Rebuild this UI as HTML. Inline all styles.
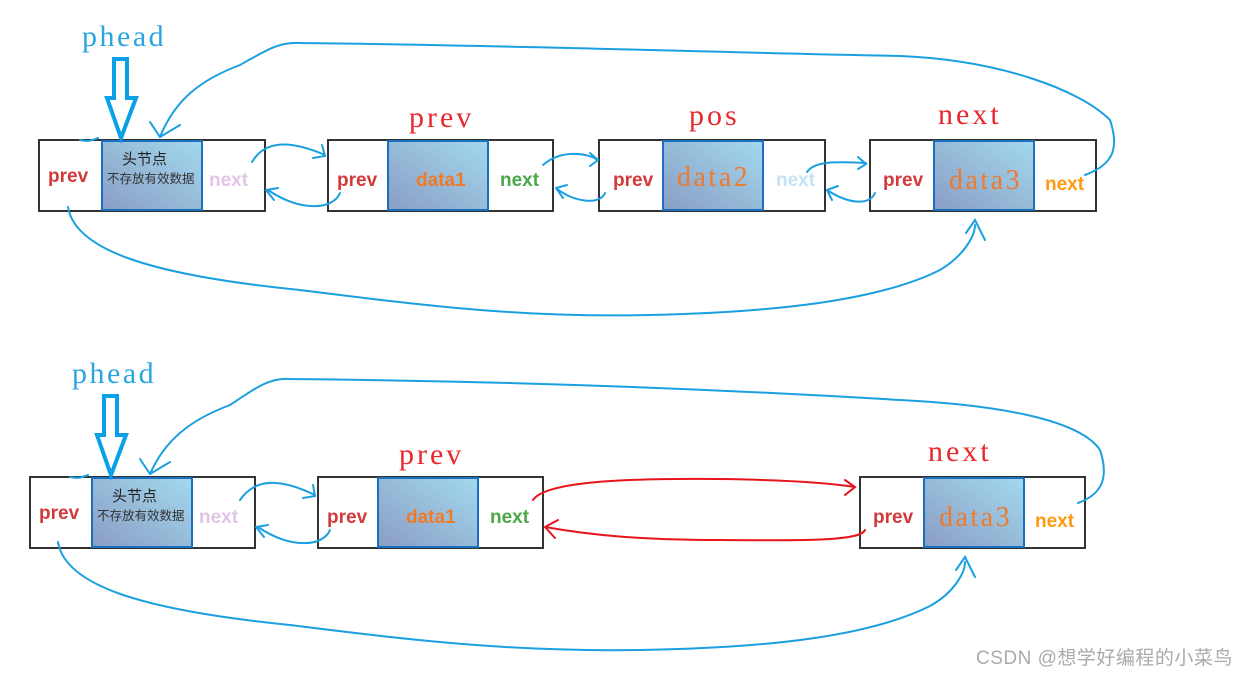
<!DOCTYPE html>
<html><head><meta charset="utf-8"><style>
html,body{margin:0;padding:0;background:#fff;width:1244px;height:676px;overflow:hidden}
svg{display:block}
.lbl{font-family:"Liberation Sans","Noto Sans CJK SC",sans-serif;font-weight:bold;font-size:19px}
.ser{font-family:"Liberation Serif","Noto Serif CJK SC",serif}
</style></head><body>
<svg width="1244" height="676" viewBox="0 0 1244 676" xmlns="http://www.w3.org/2000/svg">
<defs>
<linearGradient id="g" x1="0" y1="1" x2="1" y2="0">
<stop offset="0" stop-color="#8a9dc3"/><stop offset="1" stop-color="#a2d9ef"/>
</linearGradient>
</defs>
<g fill="#fff" stroke="#333" stroke-width="2">
<rect x="39" y="140" width="226" height="71"/>
<rect x="328" y="140" width="225" height="71"/>
<rect x="599" y="140" width="226" height="71"/>
<rect x="870" y="140" width="226" height="71"/>
<rect x="30" y="477" width="225" height="71"/>
<rect x="318" y="477" width="225" height="71"/>
<rect x="860" y="477" width="225" height="71"/>
</g>
<g fill="url(#g)" stroke="#1a6fc0" stroke-width="2">
<rect x="102" y="141" width="100" height="69"/>
<rect x="388" y="141" width="100" height="69"/>
<rect x="663" y="141" width="100" height="69"/>
<rect x="934" y="141" width="100" height="69"/>
<rect x="92" y="478" width="100" height="69"/>
<rect x="378" y="478" width="100" height="69"/>
<rect x="924" y="478" width="100" height="69"/>
</g>
<g class="lbl">
<text x="48" y="182" fill="#d23a3a">prev</text>
<text x="209" y="186" fill="#e2c4e8">next</text>
<text x="337" y="186" fill="#d23a3a">prev</text>
<text x="416" y="186" fill="#ee7a2a">data1</text>
<text x="500" y="186" fill="#4aa84a">next</text>
<text x="613" y="186" fill="#d23a3a">prev</text>
<text x="776" y="186" fill="#c6e2f6">next</text>
<text x="883" y="186" fill="#d23a3a">prev</text>
<text x="1045" y="190" fill="#ff9a10">next</text>
<text x="39" y="519" fill="#d23a3a">prev</text>
<text x="199" y="523" fill="#e2c4e8">next</text>
<text x="327" y="523" fill="#d23a3a">prev</text>
<text x="406" y="523" fill="#ee7a2a">data1</text>
<text x="490" y="523" fill="#4aa84a">next</text>
<text x="873" y="523" fill="#d23a3a">prev</text>
<text x="1035" y="527" fill="#ff9a10">next</text>
</g>
<g class="ser" fill="#ee7a2a" font-size="28" letter-spacing="2.5">
<text x="677" y="186">data2</text>
<text x="949" y="189">data3</text>
<text x="939" y="526">data3</text>
</g>
<g font-family="'Noto Sans CJK SC',sans-serif" fill="#222">
<text x="122" y="164" font-size="15">头节点</text>
<text x="107" y="183" font-size="12.5" fill="#333">不存放有效数据</text>
<text x="112" y="501" font-size="15">头节点</text>
<text x="97" y="520" font-size="12.5" fill="#333">不存放有效数据</text>
</g>
<g class="ser" font-size="30" fill="#e8282c" letter-spacing="3">
<text x="409" y="127">prev</text>
<text x="689" y="125">pos</text>
<text x="938" y="124">next</text>
<text x="399" y="464">prev</text>
<text x="928" y="461">next</text>
</g>
<g class="ser" font-size="30" fill="#2aa5e0" letter-spacing="2.5">
<text x="82" y="46">phead</text>
<text x="72" y="383">phead</text>
</g>
<g fill="none" stroke="#0aa0e8" stroke-width="4" stroke-linejoin="miter">
<path d="M114 59 H127 V98 H136 L121 138 L107 98 H114 Z"/>
<path d="M104 396 H117 V435 H126 L111 475 L97 435 H104 Z"/>
</g>
<g fill="none" stroke="#1aa0e0" stroke-width="2" stroke-linecap="round">
<path d="M160 137 C175 100 200 80 240 65 C270 48 280 42 300 43 C500 45 700 52 900 56 C1000 60 1080 90 1110 120 C1120 150 1112 165 1085 175"/>
<path d="M150 122 L160 137 L180 125"/>
<path d="M80 140 C90 142 92 140 98 138"/>
<path d="M252 162 C265 140 290 140 325 155 M313 158 L325 156 L322 145"/>
<path d="M340 193 C333 210 300 212 268 190 M266 190 L278 188 M266 190 L274 200"/>
<path d="M543 165 C560 150 585 152 598 160 M590 153 L598 160 L590 166"/>
<path d="M605 193 C600 205 575 203 556 188 M556 188 L567 185 M556 188 L563 198"/>
<path d="M807 172 C815 160 840 162 866 163 M858 157 L866 164 L858 169"/>
<path d="M875 193 C870 205 850 205 827 190 M827 190 L838 186 M827 190 L832 200"/>
<path d="M68 207 C75 250 150 275 300 290 C420 305 520 318 650 315 C780 312 880 300 940 270 C965 255 975 235 975 225 M966 233 L975 220 L985 240"/>
<path d="M150 474 C165 440 190 420 230 405 C260 385 270 378 290 379 C500 381 700 388 900 400 C1000 405 1080 420 1100 450 C1110 480 1100 495 1078 503"/>
<path d="M140 459 L150 474 L170 462"/>
<path d="M70 477 C80 479 82 477 88 475"/>
<path d="M240 500 C255 478 280 478 315 495 M303 498 L315 496 L313 485"/>
<path d="M330 530 C323 547 290 549 258 527 M256 527 L268 525 M256 527 L264 537"/>
<path d="M58 542 C65 585 140 610 290 625 C410 640 510 652 640 650 C770 648 870 636 930 606 C955 592 965 572 965 562 M956 570 L965 557 L975 577"/>
</g>
<g fill="none" stroke="#e8141c" stroke-width="2" stroke-linecap="round">
<path d="M533 500 C545 482 620 478 720 479 C790 480 830 483 855 487 M845 480 L855 487 L845 495"/>
<path d="M865 530 C860 540 820 541 720 540 C640 540 590 535 545 527 M545 527 L558 520 M545 527 L555 538"/>
</g>
<text x="976" y="664" font-family="'Liberation Sans','Noto Sans CJK SC',sans-serif" font-size="19" letter-spacing="0.5" fill="#aaa">CSDN @想学好编程的小菜鸟</text>
</svg>
</body></html>
